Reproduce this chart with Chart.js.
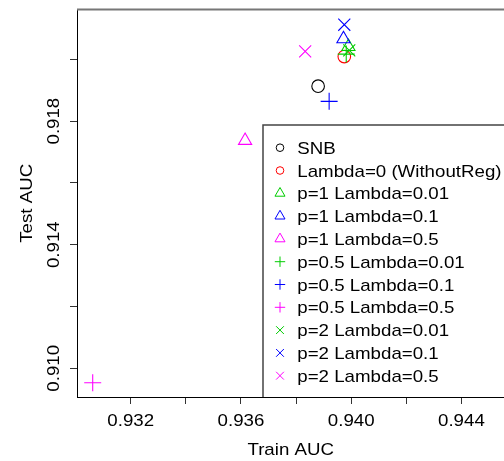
<!DOCTYPE html>
<html>
<head>
<meta charset="utf-8">
<script src="https://cdn.jsdelivr.net/npm/chart.js"></script>
<style>
  html, body { margin: 0; background: #fff; overflow: hidden; }
  #wrap { width: 504px; height: 461px; overflow: hidden; }
</style>
</head>
<body>
<div id="wrap"><canvas id="aucChart" width="514" height="461"></canvas></div>
<script>
// series, in legend order
const seriesNames = ['SNB', 'Lambda=0 (WithoutReg)', 'p=1 Lambda=0.01', 'p=1 Lambda=0.1', 'p=1 Lambda=0.5',
    'p=0.5 Lambda=0.01', 'p=0.5 Lambda=0.1', 'p=0.5 Lambda=0.5', 'p=2 Lambda=0.01', 'p=2 Lambda=0.1', 'p=2 Lambda=0.5'];
const trainAUC = [0.93880, 0.93975, 0.93990, 0.93972, 0.93615, 0.93982, 0.93920, 0.93062, 0.93993, 0.93975, 0.93833];
const testAUC  = [0.91913, 0.92009, 0.92041, 0.92066, 0.91737, 0.92017, 0.91864, 0.90953, 0.92029, 0.92112, 0.92026];

// axis ticks
const xTicks = [0.932, 0.934, 0.936, 0.938, 0.940, 0.942, 0.944];
const xLabels = ['0.932', '', '0.936', '', '0.940', '', '0.944'];
const yTicks = [0.910, 0.912, 0.914, 0.916, 0.918, 0.920];
const yLabels = ['0.910', '', '0.914', '', '0.918', ''];

const colors = ['#000000', '#FF0000', '#00CD00', '#0000FF', '#FF00FF', '#00CD00', '#0000FF', '#FF00FF', '#00CD00', '#0000FF', '#FF00FF'];
const shapes = ['circle', 'circle', 'triangle', 'triangle', 'triangle', 'cross', 'cross', 'cross', 'crossRot', 'crossRot', 'crossRot'];
const radius = { circle: 6.3, triangle: 7.6, cross: 8.5, crossRot: 8.5 };
const legendRadius = { circle: 3.8, triangle: 5.8, cross: 5.2, crossRot: 5.5 };

const FONT = '17px "Liberation Sans", Arial, sans-serif';
const STRETCH = 1.1; // the reference lettering is a bit wide

const datasets = seriesNames.map((name, i) => ({
    label: name,
    data: [{ x: trainAUC[i], y: testAUC[i] }],
    pointStyle: shapes[i],
    pointRadius: radius[shapes[i]],
    pointHoverRadius: radius[shapes[i]],
    borderColor: colors[i],
    backgroundColor: 'rgba(0,0,0,0)',
    pointBorderWidth: 1.1,
    order: seriesNames.length - i
}));

function wideText(ctx, text, x, y, align, baseline, rot) {
    ctx.save();
    ctx.translate(x, y);
    if (rot) ctx.rotate(rot);
    ctx.scale(STRETCH, 1);
    ctx.font = FONT;
    ctx.fillStyle = '#000';
    ctx.textAlign = align;
    ctx.textBaseline = baseline;
    ctx.fillText(text, 0, 0);
    ctx.restore();
}

// R-style text, top frame line and the boxed legend
const rStyle = {
    id: 'rStyle',
    afterDraw(chart) {
        const ctx = chart.ctx;
        const area = chart.chartArea;
        const xs = chart.scales.x;
        const ys = chart.scales.y;
        ctx.save();

        xTicks.forEach((v, i) => {
            if (xLabels[i]) wideText(ctx, xLabels[i], xs.getPixelForValue(v), 425.5, 'center', 'alphabetic');
        });
        yTicks.forEach((v, i) => {
            if (yLabels[i]) wideText(ctx, yLabels[i], 54, ys.getPixelForValue(v), 'center', 'middle', -Math.PI / 2);
        });
        wideText(ctx, 'Train AUC', (area.left + area.right) / 2, 455, 'center', 'alphabetic');
        wideText(ctx, 'Test AUC', 27, (area.top + area.bottom) / 2, 'center', 'middle', -Math.PI / 2);

        // top of the frame
        ctx.strokeStyle = '#777';
        ctx.lineWidth = 2;
        ctx.beginPath();
        ctx.moveTo(area.left, area.top);
        ctx.lineTo(area.right, area.top);
        ctx.stroke();

        // legend box
        const lx = 263, ly = 125;
        ctx.fillStyle = '#fff';
        ctx.fillRect(lx, ly, area.right - lx, area.bottom - ly);
        ctx.strokeStyle = '#444';
        ctx.lineWidth = 1.5;
        ctx.beginPath();
        ctx.moveTo(lx, area.bottom);
        ctx.lineTo(lx, ly);
        ctx.lineTo(area.right + 2, ly);
        ctx.stroke();

        seriesNames.forEach((name, i) => {
            const base = 153.7 + i * 22.8;
            ctx.strokeStyle = colors[i];
            ctx.fillStyle = 'rgba(0,0,0,0)';
            ctx.lineWidth = 1;
            Chart.helpers.drawPoint(ctx, {
                pointStyle: shapes[i],
                radius: legendRadius[shapes[i]],
                rotation: 0,
                borderWidth: 1
            }, 280, base - 6);
            wideText(ctx, name, 297.3, base, 'left', 'alphabetic');
        });
        ctx.restore();
    }
};

const config = {
    type: 'scatter',
    data: { datasets: datasets },
    options: {
        responsive: false,
        animation: false,
        devicePixelRatio: 1,
        layout: { padding: { top: 6, right: 1, left: 0, bottom: 0 } },
        scales: {
            x: {
                type: 'linear',
                min: 0.93005,
                max: 0.94556,
                afterBuildTicks: s => { s.ticks = xTicks.map(v => ({ value: v })); },
                afterFit: s => { s.height = 64; s.paddingLeft = 0; s.paddingRight = 0; },
                grid: { drawOnChartArea: false, drawTicks: true, tickLength: 7, color: '#000', tickColor: '#333' },
                border: { display: true, color: '#000', width: 1 },
                ticks: { display: true, autoSkip: false, maxRotation: 0, callback: () => '' }
            },
            y: {
                type: 'linear',
                min: 0.90907,
                max: 0.92161,
                afterBuildTicks: s => { s.ticks = yTicks.map(v => ({ value: v })); },
                afterFit: s => { s.width = 77; s.paddingTop = 0; s.paddingBottom = 0; },
                grid: { drawOnChartArea: false, drawTicks: true, tickLength: 7, color: '#000', tickColor: '#333' },
                border: { display: true, color: '#000', width: 1 },
                ticks: { display: true, callback: () => '' }
            }
        },
        plugins: {
            legend: { display: false },
            tooltip: { enabled: false }
        }
    },
    plugins: [rStyle]
};

const ctx = document.getElementById('aucChart').getContext('2d');
const aucChart = new Chart(ctx, config);
</script>
</body>
</html>
